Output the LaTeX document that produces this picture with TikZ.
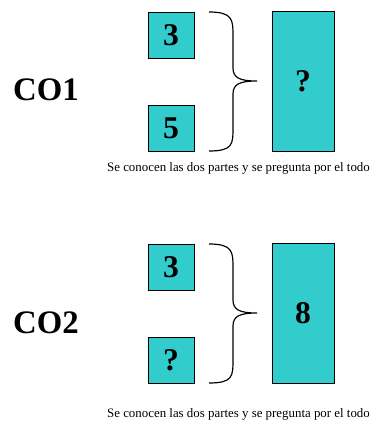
\documentclass[tikz,border=0pt]{standalone}
\usepackage{fontspec}
\setmainfont{Liberation Serif}
\usetikzlibrary{positioning}

\definecolor{partfill}{HTML}{33CCCC}

\begin{document}
\begin{tikzpicture}[
  x=0.03cm, y=-0.03cm,
  part/.style={rectangle, draw=black, line width=0.8pt, fill=partfill,
               minimum width=1.38cm, minimum height=1.38cm, inner sep=0pt,
               font=\fontsize{27}{27}\selectfont\bfseries},
  whole/.style={rectangle, draw=black, line width=0.8pt, fill=partfill,
                minimum width=1.86cm, minimum height=4.2cm, inner sep=0pt,
                font=\fontsize{27}{27}\selectfont\bfseries},
  header/.style={font=\fontsize{28}{28}\selectfont\bfseries},
  note/.style={font=\fontsize{11}{11}\selectfont},
  brace/.style={line width=1pt}
]
\useasboundingbox (0,0) rectangle (372,423);

% ---- TOP: CO1 ----
\node[header] (co1) at (46,90) {CO1};

\node[part]  (co1_a)     at (171,35)   {3};
\node[part]  (co1_b)     at (171,128.5) {5};
\node[whole] (co1_whole) at (303,81.5) {?};
\node[note]  (co1_note)  at (238.5,168) {Se conocen las dos partes y se pregunta por el todo};

\draw[brace] (209,12) .. controls (233,12) and (233,20) .. (233,36) -- (233,68)
  .. controls (233,78) and (240,81) .. (257,81)
  .. controls (240,81) and (233,84) .. (233,94) -- (233,128)
  .. controls (233,144) and (233,151) .. (209,151);

% ---- BOTTOM: CO2 ----
\node[header] (co2) at (46,323) {CO2};

\node[part]  (co2_a)     at (171,267)   {3};
\node[part]  (co2_b)     at (171,360.5) {?};
\node[whole] (co2_whole) at (303,313.5) {8};
\node[note]  (co2_note)  at (238.5,414) {Se conocen las dos partes y se pregunta por el todo};

\draw[brace] (209,244) .. controls (233,244) and (233,252) .. (233,268) -- (233,300)
  .. controls (233,310) and (240,313) .. (257,313)
  .. controls (240,313) and (233,316) .. (233,326) -- (233,360)
  .. controls (233,376) and (233,383) .. (209,383);

\end{tikzpicture}
\end{document}
